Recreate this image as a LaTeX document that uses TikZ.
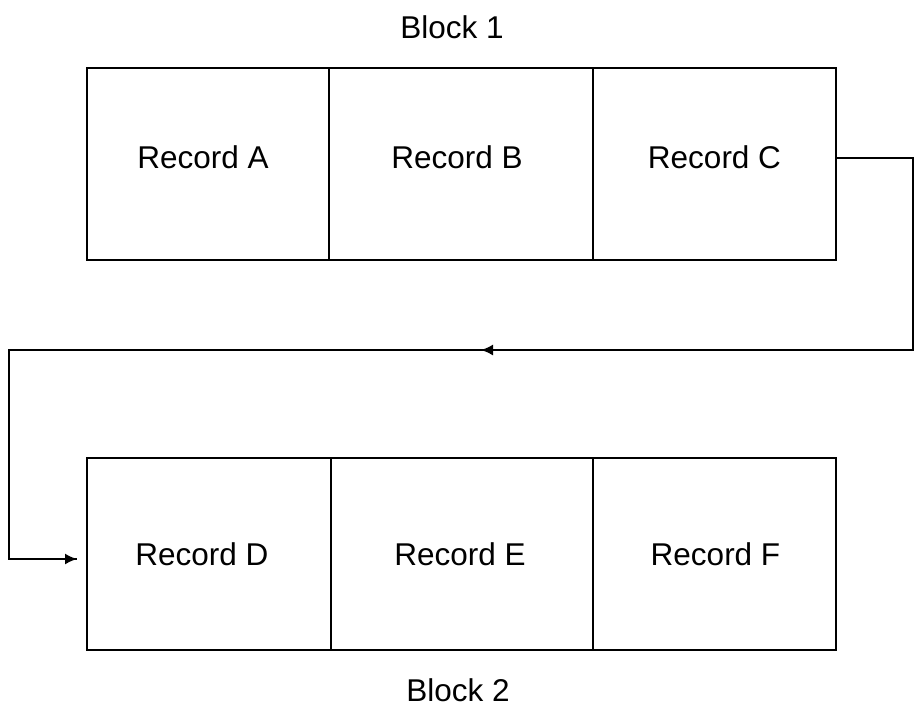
\documentclass[tikz,border=0pt]{standalone}
\usepackage{fontspec}
\setmainfont{Liberation Sans}
\usetikzlibrary{arrows.meta}
\begin{document}
\begin{tikzpicture}[x=1pt,y=-1pt,
  cell/.style={draw, line width=1.6pt, minimum height=192pt, inner sep=0pt, font=\fontsize{31.5}{36}\selectfont},
  lbl/.style={font=\fontsize{31.5}{36}\selectfont, inner sep=0pt},
  conn/.style={line width=1.6pt, line join=miter},
  tip/.style={-{Latex[length=12pt,width=11pt]}}]
\useasboundingbox (0,0) rectangle (916,713);
\node[cell, minimum width=242pt] (A) at (208,164) {\kern-10pt\raisebox{13pt}{Record A}};
\node[cell, minimum width=264pt] (B) at (461,164) {\kern-8pt\raisebox{13pt}{Record B}};
\node[cell, minimum width=243pt] (C) at (714.5,164) {\raisebox{13pt}{Record C}};
\node[cell, minimum width=244pt] (D) at (209,554) {\kern-14pt Record D};
\node[cell, minimum width=262pt] (E) at (462,554) {\kern-4pt Record E};
\node[cell, minimum width=243pt] (F) at (714.5,554) {\kern2pt Record F};
\node[lbl] (b1) at (452,27) {Block 1};
\node[lbl] (b2) at (458,690) {Block 2};
\coordinate (r1) at (913,158);
\coordinate (r2) at (913,350);
\coordinate (m) at (481,350);
\coordinate (l1) at (9,350);
\coordinate (l2) at (9,559);
\coordinate (e) at (77,559);
\draw[conn] (C.east |- r1) -- (r1) -- (r2) -- (l1) -- (l2) -- (e);
\draw[conn, tip] (r2) -- (m);
\draw[conn, tip] (l2) -- (e);
\end{tikzpicture}
\end{document}
